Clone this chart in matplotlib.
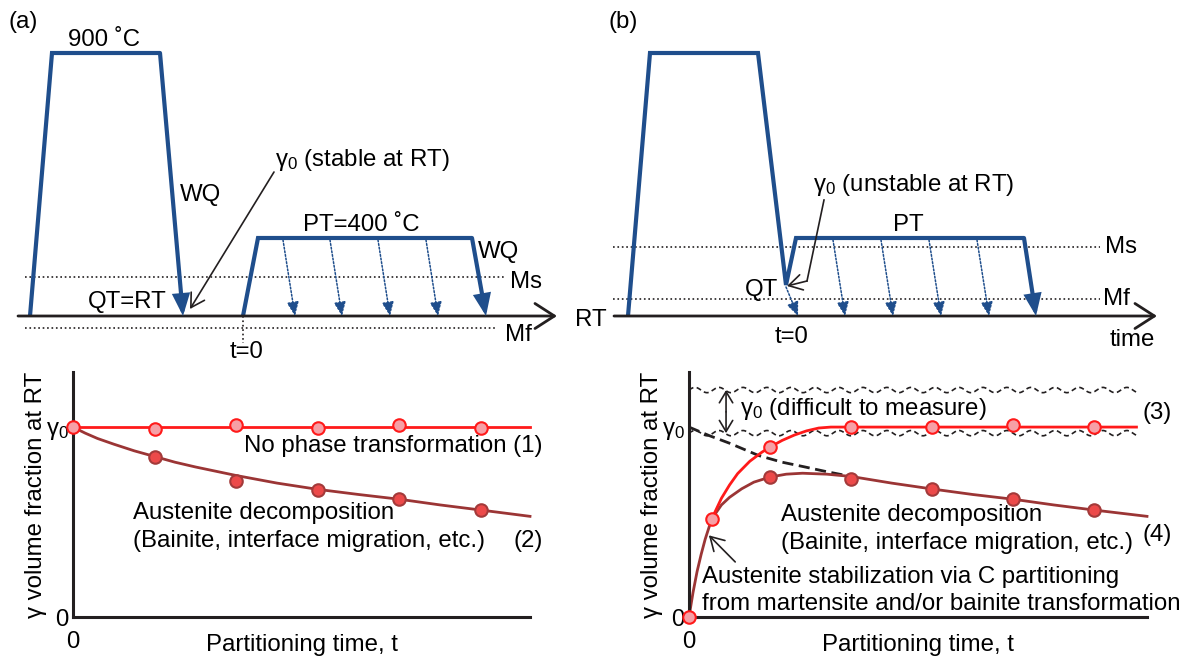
import numpy as np
import matplotlib.pyplot as plt

plt.rcParams['font.family'] = ['Liberation Sans', 'DejaVu Sans']
plt.rcParams['font.size'] = 17.3
plt.rcParams['mathtext.fontset'] = 'custom'
plt.rcParams['mathtext.rm'] = 'Liberation Sans'
plt.rcParams['mathtext.it'] = 'Liberation Sans:italic'
plt.rcParams['mathtext.default'] = 'regular'

W, H = 1186, 657
BLUE = '#1f4e8c'
INK = '#231f20'
RED = '#ff1a1a'
PINK = '#f6a0a6'
BROWN = '#9b3535'
DOT = '#ec4a4a'

# ---- heat treatment schedules (schematic, picture px, y down)
# (a) quench to RT, gamma stable
hold_a_x = [30, 52, 160, 183]
hold_a_y = [316, 53, 53, 316]
pt_a_x = [243, 258, 472, 486]
pt_a_y = [316, 238, 238, 316]
drop_a_x = [283, 330, 378, 426]
drop_a_y = [240, 240, 240, 240]
rt_a, ms_a, mf_a = 316, 277, 328
# (b) quench between Ms and Mf
hold_b_x = [628, 650, 758, 786, 796, 1024, 1036]
hold_b_y = [316, 53, 53, 285, 238, 238, 316]
drop_b_x = [786, 833, 881, 929, 977]
drop_b_y = [287, 240, 240, 240, 240]
rt_b, ms_b, mf_b = 316, 247, 299

# ---- gamma fraction vs partitioning time
# (a)
t_pts_a = [0, 1, 2, 3, 4, 5]
no_trans_pts = [1.0, 0.99, 1.01, 0.995, 1.01, 0.995]
no_trans_t = [0, 5.6]
no_trans = [1.0, 1.0]
decomp_t = [0, 0.15, 0.3, 0.5, 0.75, 1, 1.25, 1.5, 2, 2.5, 3, 3.5, 4, 4.5, 5, 5.6]
decomp = [1.0, 0.968, 0.94, 0.91, 0.875, 0.845, 0.815, 0.79, 0.745, 0.705, 0.672,
          0.645, 0.62, 0.59, 0.563, 0.53]
decomp_pts = [0.842, 0.716, 0.668, 0.621, 0.563]
# (b)
stab_t = [0.28, 0.4, 0.5, 0.6, 0.75, 0.9, 1.0, 1.15, 1.3, 1.45, 1.6, 1.75, 2, 3, 4, 5, 5.52]
stab = [0.516, 0.625, 0.695, 0.755, 0.82, 0.868, 0.895, 0.93, 0.958, 0.98, 0.995, 1.0,
        1.0, 1.0, 1.0, 1.0, 1.0]
stab_pts_t = [0, 0.28, 1, 2, 3, 4, 5]
stab_pts = [0.0, 0.516, 0.895, 1.0, 1.0, 1.01, 1.0]
dec_b_t = [0, 0.05, 0.1, 0.15, 0.2, 0.28, 0.4, 0.5, 0.65, 0.8, 1, 1.2, 1.4, 1.7, 2,
           2.5, 3, 3.5, 4, 4.5, 5, 5.65]
dec_b = [0, 0.13, 0.24, 0.33, 0.41, 0.516, 0.59, 0.63, 0.675, 0.71, 0.737, 0.752,
         0.757, 0.752, 0.74, 0.705, 0.674, 0.645, 0.62, 0.59, 0.563, 0.53]
dec_b_pts_t = [1, 2, 3, 4, 5]
dec_b_pts = [0.737, 0.726, 0.674, 0.621, 0.563]
ideal_t = [0, 0.25, 0.5, 0.86, 1.15, 1.43, 1.7, 2]
ideal = [1.0, 0.955, 0.915, 0.85, 0.815, 0.79, 0.765, 0.74]
band_hi, band_lo = 1.195, 0.968

fig = plt.figure(figsize=(W / 100, H / 100), dpi=100)
cv = fig.add_axes([0, 0, 1, 1])
cv.set_xlim(0, W)
cv.set_ylim(H, 0)
cv.axis('off')


def arrow(ax, p0, p1, **kw):
    ax.annotate('', xy=p1, xytext=p0, arrowprops=dict(shrinkA=0, shrinkB=0, **kw))


def heat_path(xs, ys):
    cv.plot(xs[:-1], ys[:-1], color=BLUE, lw=3, solid_joinstyle='miter', solid_capstyle='butt')
    arrow(cv, (xs[-2], ys[-2]), (xs[-1], ys[-1]), color=BLUE, lw=3,
          arrowstyle='-|>,head_length=0.55,head_width=0.22', mutation_scale=20, joinstyle='miter')


def drops(xs, ys, rt):
    for x, y in zip(xs, ys):
        arrow(cv, (x, y), (x + 12, rt), color=BLUE, lw=1.1, linestyle=(0, (1.2, 1.2)),
              arrowstyle='-|>,head_length=0.7,head_width=0.3', mutation_scale=12)


def time_axis(x0, x1, y):
    arrow(cv, (x0, y), (x1, y), color=INK, lw=2,
          arrowstyle='->,head_length=0.7,head_width=0.45', mutation_scale=20)


# (a) top
time_axis(18, 557, rt_a)
cv.plot([25, 505], [ms_a, ms_a], ':', color=INK, lw=1.2)
cv.plot([25, 495], [mf_a, mf_a], ':', color=INK, lw=1.2)
cv.plot([243, 243], [rt_a, 343], ':', color=INK, lw=1.2)
drops(drop_a_x, drop_a_y, rt_a)
heat_path(hold_a_x, hold_a_y)
heat_path(pt_a_x, pt_a_y)
arrow(cv, (274, 172), (190, 309), color=INK, lw=1.2,
      arrowstyle='->,head_length=0.6,head_width=0.35', mutation_scale=16)

cv.text(8, 22, '(a)', va='center')
cv.text(68, 40, '900 ˚C', va='center')
cv.text(180, 195, 'WQ', va='center')
cv.text(275, 160, 'γ$_0$ (stable at RT)', va='center')
cv.text(303, 225, 'PT=400 ˚C', va='center')
cv.text(478, 252, 'WQ', va='center')
cv.text(510, 282, 'Ms', va='center')
cv.text(88, 302, 'QT=RT', va='center')
cv.text(505, 335, 'Mf', va='center')
cv.text(230, 352, 't=0', va='center')
cv.text(575, 320, 'RT', va='center')

# (b) top
time_axis(614, 1157, rt_b)
cv.plot([613, 1100], [ms_b, ms_b], ':', color=INK, lw=1.2)
cv.plot([613, 1100], [mf_b, mf_b], ':', color=INK, lw=1.2)
drops(drop_b_x, drop_b_y, rt_b)
heat_path(hold_b_x, hold_b_y)
cv.plot([824, 807], [200, 281], color=INK, lw=1.2)
arrow(cv, (807, 281), (787, 286), color=INK, lw=1.2,
      arrowstyle='->,head_length=0.6,head_width=0.35', mutation_scale=16)

cv.text(608, 22, '(b)', va='center')
cv.text(813, 185, 'γ$_0$ (unstable at RT)', va='center')
cv.text(893, 225, 'PT', va='center')
cv.text(1105, 247, 'Ms', va='center')
cv.text(745, 290, 'QT', va='center')
cv.text(1103, 299, 'Mf', va='center')
cv.text(775, 337, 't=0', va='center')
cv.text(1110, 340, 'time', va='center')


def fraction_axes(left, right, tmax):
    ax = fig.add_axes([left / W, (H - 617) / H, (right - left) / W, 245 / H])
    ax.set_xlim(0, tmax)
    ax.set_ylim(0, 1.29)
    ax.patch.set_alpha(0)
    for s in ['top', 'right']:
        ax.spines[s].set_visible(False)
    for s in ['left', 'bottom']:
        ax.spines[s].set_linewidth(2.2)
        ax.spines[s].set_color(INK)
    ax.set_yticks([0, 1], ['0', 'γ$_0$'])
    ax.set_xticks([0], ['0'])
    ax.tick_params(length=0, labelsize=17.3)
    ax.tick_params(axis='x', pad=10)
    ax.tick_params(axis='y', pad=3)
    ax.text(0.5, -0.114, 'Partitioning time, t', transform=ax.transAxes,
            ha='center', va='center')
    ax.text(-0.08, 0.5, 'γ volume fraction at RT', transform=ax.transAxes,
            ha='center', va='center', rotation=90)
    return ax


pink = dict(marker='o', ms=9, mfc=PINK, mec=RED, mew=1.5, ls='none', clip_on=False, zorder=5)
dark = dict(marker='o', ms=9, mfc=DOT, mec='#a33a3a', mew=1.5, ls='none', clip_on=False, zorder=5)

# (a) bottom
axa = fraction_axes(73, 530, 5.6)
axa.plot(no_trans_t, no_trans, color=RED, lw=2, clip_on=False)
axa.plot(decomp_t, decomp, color=BROWN, lw=2, clip_on=False)
axa.plot(t_pts_a[1:], decomp_pts, **dark)
axa.plot(t_pts_a, no_trans_pts, **pink)
axa.text(2.1, 0.9, 'No phase transformation (1)', va='center')
axa.text(0.73, 0.55, 'Austenite decomposition', va='center')
axa.text(0.73, 0.4, '(Bainite, interface migration, etc.)', va='center')
axa.text(5.4, 0.4, '(2)', va='center')

# (b) bottom
axb = fraction_axes(689, 1147, 5.65)
wt = np.linspace(0, 5.52, 600)
for lvl in (band_hi, band_lo):
    axb.plot(wt, lvl + 0.014 * np.sin(2 * np.pi * wt / 0.296), color=INK, lw=1.2,
             ls=(0, (3, 2)), clip_on=False)
arrow(axb, (0.457, 1.08), (0.457, band_hi), color=INK, lw=1.2,
      arrowstyle='->,head_length=0.5,head_width=0.3', mutation_scale=16)
arrow(axb, (0.457, 1.08), (0.457, band_lo), color=INK, lw=1.2,
      arrowstyle='->,head_length=0.5,head_width=0.3', mutation_scale=16)
axb.plot(ideal_t, ideal, color=INK, lw=2, ls=(0, (4, 2)))
axb.plot(dec_b_t, dec_b, color=BROWN, lw=2, clip_on=False)
axb.plot(stab_t, stab, color=RED, lw=2)
axb.plot(dec_b_pts_t, dec_b_pts, **dark)
axb.plot(stab_pts_t, stab_pts, **pink)
axb.text(0.63, 1.095, 'γ$_0$ (difficult to measure)', va='center')
axb.text(5.6, 1.075, '(3)', va='center')
axb.text(1.13, 0.535, 'Austenite decomposition', va='center')
axb.text(1.13, 0.39, '(Bainite, interface migration, etc.)', va='center')
axb.text(5.6, 0.43, '(4)', va='center')
arrow(axb, (0.57, 0.29), (0.245, 0.43), color=INK, lw=1.2,
      arrowstyle='->,head_length=0.6,head_width=0.35', mutation_scale=16)
axb.text(0.16, 0.21, 'Austenite stabilization via C partitioning', va='center')
axb.text(0.16, 0.07, 'from martensite and/or bainite transformation', va='center')

fig.savefig('out.png', dpi=100)
